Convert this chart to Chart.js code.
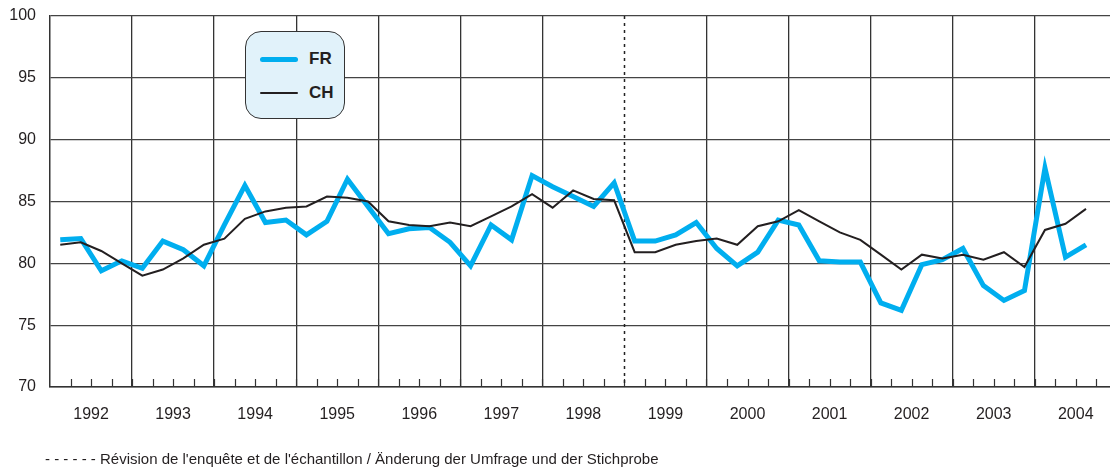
<!DOCTYPE html>
<html>
<head>
<meta charset="utf-8">
<script src="https://cdn.jsdelivr.net/npm/chart.js@4"></script>
<style>
  body { margin: 0; background: #fff; }
  #wrap { position: relative; width: 1110px; height: 468px; overflow: hidden; font-family: "Liberation Sans Narrow", "Liberation Sans", Arial, sans-serif; }
  #legend {
    position: absolute; left: 245px; top: 31px; width: 100px; height: 88px;
    background: #e1f2fa; border: 1.5px solid #333; border-radius: 16px; box-sizing: border-box;
  }
  .item { position: absolute; left: 14px; height: 20px; display: flex; align-items: center; }
  .swatch { width: 38px; margin-right: 11px; border-radius: 3px; }
  .item span { font-family: "Liberation Sans", Arial, sans-serif; font-weight: bold; font-size: 17px; color: #231f20; }
  #note { position: absolute; left: 45px; top: 450px; font-size: 15px; color: #231f20; white-space: nowrap; }
</style>
</head>
<body>
<div id="wrap">
  <canvas id="chart" width="1110" height="468"></canvas>
  <div id="legend"></div>
  <div id="note">- - - - - - Révision de l'enquête et de l'échantillon / Änderung der Umfrage und der Stichprobe</div>
</div>
<script>
const years = ['1992', '1993', '1994', '1995', '1996', '1997', '1998', '1999', '2000', '2001', '2002', '2003', '2004'];
const seriesNames = ['FR', 'CH'];

// quarterly values, 1992 Q1 .. 2004 Q3
const frValues = [
  81.9, 82.0, 79.4, 80.2,
  79.6, 81.8, 81.1, 79.8,
  83.1, 86.3, 83.3, 83.5,
  82.3, 83.4, 86.8, 84.6,
  82.4, 82.8, 82.9, 81.7,
  79.8, 83.1, 81.9, 87.1,
  86.2, 85.4, 84.6, 86.5,
  81.8, 81.8, 82.3, 83.3,
  81.2, 79.8, 80.9, 83.5,
  83.1, 80.2, 80.1, 80.1,
  76.8, 76.2, 79.9, 80.3,
  81.2, 78.2, 77.0, 77.8,
  87.7, 80.5, 81.5
];
const chValues = [
  81.5, 81.7, 81.0, 80.0,
  79.0, 79.5, 80.4, 81.5,
  82.0, 83.6, 84.2, 84.5,
  84.6, 85.4, 85.3, 85.0,
  83.4, 83.1, 83.0, 83.3,
  83.0, 83.8, 84.6, 85.6,
  84.5, 85.9, 85.2, 85.1,
  80.9, 80.9, 81.5, 81.8,
  82.0, 81.5, 83.0, 83.4,
  84.3, 83.4, 82.5, 81.9,
  80.7, 79.5, 80.7, 80.4,
  80.7, 80.3, 80.9, 79.7,
  82.7, 83.2, 84.4
];
const revisionQuarter = 28; // break between 1998 and 1999

const toPoints = vals => vals.map((v, i) => ({ x: i + 0.5, y: v }));

const extras = {
  id: 'extras',
  beforeDatasetsDraw(chart) {
    const { ctx, chartArea, scales: { x } } = chart;
    ctx.save();
    // small quarter ticks on the x axis
    ctx.strokeStyle = '#333';
    ctx.lineWidth = 1.2;
    for (let q = 1; q <= 52; q++) {
      const px = Math.round(x.getPixelForValue(q)) + 0.5;
      ctx.beginPath();
      ctx.moveTo(px, chartArea.bottom);
      ctx.lineTo(px, chartArea.bottom - 8);
      ctx.stroke();
    }
    // dashed revision line
    const dx = Math.round(x.getPixelForValue(revisionQuarter)) + 0.5;
    ctx.strokeStyle = '#222';
    ctx.lineWidth = 1.5;
    ctx.setLineDash([3, 4]);
    ctx.beginPath();
    ctx.moveTo(dx, chartArea.top);
    ctx.lineTo(dx, chartArea.bottom);
    ctx.stroke();
    ctx.restore();
  }
};

const chart = new Chart(document.getElementById('chart'), {
  type: 'line',
  data: {
    datasets: [
      {
        label: seriesNames[0],
        data: toPoints(frValues),
        borderColor: '#00aeef',
        borderWidth: 5,
        pointRadius: 0,
        tension: 0,
        order: 1
      },
      {
        label: seriesNames[1],
        data: toPoints(chValues),
        borderColor: '#231f20',
        borderWidth: 2,
        pointRadius: 0,
        tension: 0,
        order: 0
      }
    ]
  },
  options: {
    responsive: false,
    animation: false,
    layout: { padding: { top: 16, right: 0, left: 0, bottom: 0 } },
    plugins: {
      legend: { display: false },
      tooltip: { enabled: false }
    },
    scales: {
      x: {
        type: 'linear',
        min: 0,
        max: 51.67,
        afterFit: s => { s.height = 81; s.paddingLeft = 0; s.paddingRight = 0; },
        border: { color: '#333', width: 1.5 },
        grid: {
          drawTicks: false,
          lineWidth: 1.3,
          color: c => {
            const v = c.tick && c.tick.value;
            return (v % 4 === 0 && v !== 0 && v !== revisionQuarter) ? '#333' : 'rgba(0,0,0,0)';
          }
        },
        ticks: {
          stepSize: 1,
          autoSkip: false,
          maxRotation: 0,
          includeBounds: false,
          padding: 18,
          color: '#231f20',
          font: { family: '"Liberation Sans Narrow", "Liberation Sans", Arial', size: 16 },
          callback: v => ((v - 2) % 4 === 0 ? years[(v - 2) / 4] : '')
        }
      },
      y: {
        min: 70,
        max: 100,
        afterFit: s => { s.width = 50; s.paddingTop = 0; s.paddingBottom = 0; },
        border: { color: '#333', width: 1.5 },
        grid: { drawTicks: false, color: '#444', lineWidth: 1.3 },
        ticks: {
          stepSize: 5,
          padding: 14,
          color: '#231f20',
          font: { family: '"Liberation Sans Narrow", "Liberation Sans", Arial', size: 16 }
        }
      }
    }
  },
  plugins: [extras]
});

// legend built from the datasets
const legend = document.getElementById('legend');
chart.data.datasets.forEach((ds, i) => {
  const item = document.createElement('div');
  item.className = 'item';
  item.style.top = (i === 0 ? 17 : 51) + 'px';
  const sw = document.createElement('div');
  sw.className = 'swatch';
  sw.style.height = ds.borderWidth + 'px';
  sw.style.background = ds.borderColor;
  const label = document.createElement('span');
  label.textContent = ds.label;
  item.appendChild(sw);
  item.appendChild(label);
  legend.appendChild(item);
});
</script>
</body>
</html>
